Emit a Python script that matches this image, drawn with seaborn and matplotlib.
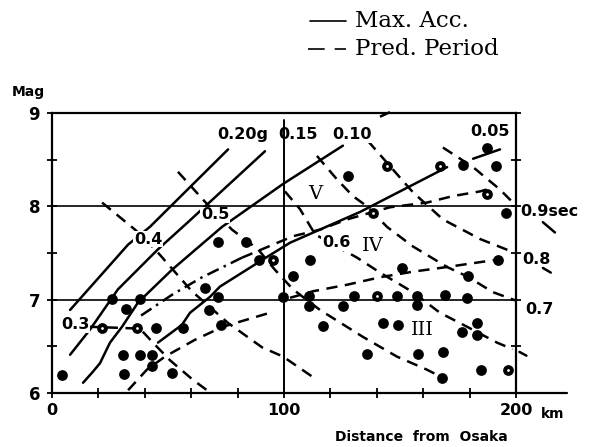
import numpy as np
import matplotlib
matplotlib.use("Agg")
from matplotlib import pyplot as plt
import seaborn as sns

# observed earthquakes (distance from Osaka in km, magnitude)
dot_km = [71.4, 83.5, 89.4, 104.0, 127.7, 177.3, 187.4, 191.4, 195.7, 192.4,
          111.2, 150.7, 179.4, 4.2, 25.7, 31.9, 37.9, 44.8, 56.3, 30.5,
          37.9, 43.0, 43.0, 31.0, 51.6, 65.9, 71.7, 67.8, 72.7, 99.4,
          110.9, 110.9, 117.0, 125.3, 130.2, 148.8, 157.2, 157.2, 169.4, 178.7,
          142.5, 149.3, 176.6, 183.1, 183.1, 135.6, 157.9, 168.7, 168.0, 184.8]
dot_mag = [7.62, 7.62, 7.42, 7.25, 8.33, 8.44, 8.63, 8.43, 7.93, 7.43,
           7.42, 7.34, 7.25, 6.19, 7.01, 6.90, 7.01, 6.70, 6.70, 6.41,
           6.41, 6.41, 6.29, 6.20, 6.21, 7.13, 7.03, 6.89, 6.73, 7.03,
           7.04, 6.93, 6.72, 6.93, 7.04, 7.04, 7.04, 6.94, 7.05, 7.02,
           6.75, 6.73, 6.65, 6.75, 6.62, 6.42, 6.42, 6.44, 6.16, 6.25]
ring_km = [95.1, 144.3, 167.2, 187.4, 138.2, 21.4, 36.6, 140.2, 196.4]
ring_mag = [7.42, 8.43, 8.43, 8.13, 7.93, 6.70, 6.70, 7.04, 6.25]

# max. acceleration curves
acc1_km = [7.8, 32.8, 42.2, 75.9]
acc1_mag = [6.89, 7.59, 7.78, 8.61]
acc2_km = [7.8, 16.4, 28.4, 45.7, 58.6, 91.8]
acc2_mag = [6.41, 6.68, 7.11, 7.54, 7.83, 8.59]
acc3_km = [13.4, 17.7, 20.7, 25.0, 30.2, 37.1, 51.7, 73.3, 99.6, 125.4]
acc3_mag = [6.11, 6.23, 6.32, 6.54, 6.71, 6.97, 7.32, 7.78, 8.24, 8.65]
acc3_ext_km = [141.4, 145.7]
acc3_ext_mag = [8.96, 9.01]
acc4_km = [45.7, 56.0, 59.5, 68.1, 72.4, 90.9, 102.6, 132.8, 170.3]
acc4_mag = [6.54, 6.73, 6.86, 7.03, 7.14, 7.43, 7.61, 7.94, 8.42]
acc4_end_km = [181.5, 193.1]
acc4_end_mag = [8.51, 8.61]

# rising boundary lines
bnd1_km = [38.4, 52.2, 64.7, 81.9]
bnd1_mag = [6.83, 7.06, 7.24, 7.45]
bnd2_km = [81.9, 103.9, 115.5, 127.2, 138.4, 145.7, 161.6, 172.8, 184.5, 190.1]
bnd2_mag = [7.45, 7.68, 7.75, 7.86, 7.94, 7.99, 8.04, 8.11, 8.16, 8.20]
bnd3_km = [32.8, 40.9, 48.7, 61.6, 73.7, 95.3]
bnd3_mag = [6.03, 6.25, 6.39, 6.57, 6.71, 6.87]
bnd4_km = [102.6, 112.5, 127.2, 141.4, 155.6, 170.3, 192.2]
bnd4_mag = [7.02, 7.09, 7.16, 7.24, 7.30, 7.35, 7.43]

# predominant period curves
per03_km = [15.5, 37.9, 43.5, 50.9, 60.8, 66.8]
per03_mag = [6.71, 6.69, 6.54, 6.35, 6.14, 6.03]
per04_km = [21.6, 35.8, 44.4, 60.3, 75.9, 90.5, 99.6, 112.5]
per04_mag = [8.04, 7.75, 7.54, 7.09, 6.75, 6.49, 6.39, 6.17]
per05_km = [54.3, 65.9, 77.6, 88.8, 96.1, 103.9, 115.5, 134.1, 148.7, 161.6, 170.3]
per05_mag = [8.37, 8.05, 7.75, 7.54, 7.32, 7.11, 6.89, 6.60, 6.39, 6.25, 6.14]
per06_km = [100.4, 106.9, 113.4, 131.5, 141.4, 155.6, 167.2, 178.9, 191.8, 198.5]
per06_mag = [8.16, 7.97, 7.70, 7.45, 7.29, 7.08, 6.86, 6.71, 6.54, 6.47]
per07_km = [114.2, 122.8, 129.7, 135.8, 144.4, 155.6, 170.3, 178.9, 190.1, 200.0]
per07_mag = [8.54, 8.29, 8.11, 8.00, 7.78, 7.57, 7.35, 7.25, 7.08, 6.99]
per08_km = [136.2, 145.7, 155.6, 168.5, 184.5, 198.7]
per08_mag = [8.70, 8.43, 8.15, 7.86, 7.65, 7.51]
per09_km = [168.5, 181.5, 193.1, 198.7]
per09_mag = [8.63, 8.42, 8.18, 8.04]
tail_km = [[201.5, 204.5], [211.6, 215.0], [211.6, 216.8]]
tail_mag = [[6.44, 6.40], [7.34, 7.29], [7.83, 7.72]]

sns.set_theme(style="ticks")
plt.rcParams["font.family"] = ["DejaVu Sans"]
for key in ["text.color", "axes.labelcolor", "xtick.color", "ytick.color",
            "axes.edgecolor"]:
    plt.rcParams[key] = "black"

fig = plt.figure(figsize=(5.97, 4.47), dpi=100)
ax = fig.add_axes([0.0871, 0.1208, 0.7772, 0.6264])

DASH = (4.5, 3.0)
DASHDOT = (5.0, 2.2, 1.0, 2.2)


def curve(xs, ys, dash=None, lw=1.8, clip=True):
    sns.lineplot(x=xs, y=ys, sort=False, errorbar=None, color="black",
                 linewidth=lw, ax=ax, clip_on=clip)
    if dash:
        ax.lines[-1].set_dashes(dash)


# frame lines
ax.axhline(7, color="black", lw=1.2, zorder=1)
ax.axhline(8, color="black", lw=1.2, zorder=1)
ax.axvline(100, ymax=0.975, color="black", lw=1.4, zorder=1)

curve(acc1_km, acc1_mag)
curve(acc2_km, acc2_mag)
curve(acc3_km, acc3_mag)
curve(acc3_ext_km, acc3_ext_mag, dash=DASH, clip=False)
curve(acc4_km, acc4_mag)
curve(acc4_end_km, acc4_end_mag)

curve(bnd1_km, bnd1_mag, dash=DASHDOT)
curve(bnd2_km, bnd2_mag, dash=DASH)
curve(bnd3_km, bnd3_mag, dash=DASH)
curve(bnd4_km, bnd4_mag, dash=DASH)

for xs, ys in [(per03_km, per03_mag), (per04_km, per04_mag), (per05_km, per05_mag),
               (per06_km, per06_mag), (per07_km, per07_mag), (per08_km, per08_mag),
               (per09_km, per09_mag)]:
    curve(xs, ys, dash=DASH)
for xs, ys in zip(tail_km, tail_mag):
    curve(xs, ys, clip=False)

sns.scatterplot(x=dot_km + ring_km, y=dot_mag + ring_mag, color="black", s=60,
                linewidth=0, ax=ax, zorder=5, clip_on=False)
sns.scatterplot(x=ring_km, y=ring_mag, color="white", s=4, linewidth=0,
                ax=ax, zorder=6, clip_on=False)

# curve labels
lab = dict(fontsize=11.5, fontweight="bold", ha="center", va="center", zorder=7)
box = dict(facecolor="white", edgecolor="none", pad=0.5)
ax.text(82.3, 8.77, "0.20g", bbox=box, **lab)
ax.text(106.0, 8.77, "0.15", **lab)
ax.text(129.3, 8.77, "0.10", bbox=box, **lab)
ax.text(188.8, 8.80, "0.05", bbox=box, **lab)
ax.text(9.9, 6.73, "0.3", bbox=box, **lab)
ax.text(41.4, 7.65, "0.4", bbox=box, **lab)
ax.text(70.3, 7.91, "0.5", bbox=box, **lab)
ax.text(122.4, 7.61, "0.6", bbox=box, **lab)
rl = dict(fontsize=11.5, fontweight="bold", ha="left", va="center")
ax.text(202.0, 7.94, "0.9sec", **rl)
ax.text(202.6, 7.43, "0.8", **rl)
ax.text(203.9, 6.89, "0.7", **rl)
rom = dict(fontsize=14, family="DejaVu Serif", ha="center", va="center", zorder=7)
ax.text(113.4, 8.13, "V", **rom)
ax.text(138.4, 7.57, "IV", **rom)
ax.text(159.5, 6.68, "III", **rom)

ax.set_xlim(0, 200)
ax.set_ylim(6, 9)
ax.set_xticks([0, 100, 200])
ax.set_xticks(np.arange(0, 201, 20), minor=True)
ax.set_yticks([6, 7, 8, 9])
ax.set_yticks([6.5, 7.5, 8.5], minor=True)
ax.set_xticklabels(["0", "100", "200"], fontsize=11.5, fontweight="bold")
ax.set_yticklabels(["6", "7", "8", "9"], fontsize=12, fontweight="bold")
ax.tick_params(which="both", direction="inout", length=7, width=1.3,
               color="black", right=True, top=False)
ax.tick_params(axis="x", pad=4)
ax.tick_params(axis="y", pad=5)
for sp in ax.spines.values():
    sp.set_linewidth(1.6)
    sp.set_color("black")
ax.plot([1.0, 1.11], [0, 0], transform=ax.transAxes, color="black",
        lw=1.6, clip_on=False)
ax.text(1.08, -0.075, "km", transform=ax.transAxes, fontsize=10,
        fontweight="bold", ha="center", va="center")
ax.text(-0.052, 1.075, "Mag", transform=ax.transAxes, fontsize=10,
        fontweight="bold", ha="center", va="center")
ax.text(0.797, -0.157, "Distance  from  Osaka", transform=ax.transAxes,
        fontsize=10, fontweight="bold", ha="center", va="center")

# legend
fig.add_artist(plt.Line2D([310 / 597, 346 / 597], [1 - 21 / 447] * 2,
                          color="black", lw=1.2))
dl = plt.Line2D([308 / 597, 346 / 597], [1 - 49 / 447] * 2, color="black", lw=1.2)
dl.set_dashes((10, 6))
fig.add_artist(dl)
leg = dict(fontsize=16.5, family="DejaVu Serif", ha="left", va="center")
fig.text(355 / 597, 1 - 21 / 447, "Max. Acc.", **leg)
fig.text(355 / 597, 1 - 49 / 447, "Pred. Period", **leg)

fig.savefig("out.png", dpi=100, facecolor="white")
